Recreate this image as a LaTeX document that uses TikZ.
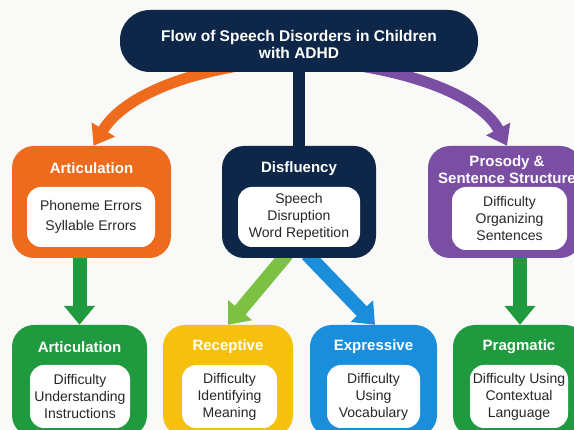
\documentclass[tikz,border=0pt]{standalone}
\usepackage{fontspec}
\setmainfont{Liberation Sans}
\usetikzlibrary{arrows.meta}
\definecolor{navy}{HTML}{0E2748}
\definecolor{orng}{HTML}{EE6B1E}
\definecolor{purp}{HTML}{7A4EA3}
\definecolor{grn}{HTML}{1F9A3F}
\definecolor{yel}{HTML}{F6C10E}
\definecolor{blu}{HTML}{1B8EDB}
\definecolor{lime}{HTML}{7CC142}
\definecolor{bg}{HTML}{F9F9F8}

\tikzset{
  outerbox/.style={rounded corners=22pt, inner sep=0pt, draw=none},
  innerbox/.style={fill=white, rounded corners=14pt, inner sep=0pt, align=center,
    font=\fontsize{14}{17}\selectfont, text=black!85},
  headtext/.style={text=white, inner sep=0pt, align=center,
    font=\fontsize{15}{17}\selectfont\bfseries},
  flow/.style={line width=14pt, -{Triangle[width=30pt,length=19pt]}},
  curveflow/.style={line width=11pt, -{Triangle[width=26pt,length=19pt]}},
}

\begin{document}
\begin{tikzpicture}[x=1pt,y=-1pt]
\clip (0,0) rectangle (574,430);
\fill[bg] (0,0) rectangle (574,430);

% placement of the main boxes (drawn later, on top of the connectors)
\path
  (299,41)   coordinate (titleC)
  (91.5,202) coordinate (artC)
  (299,202)  coordinate (disC)
  (505,202)  coordinate (proC)
  (79.5,381) coordinate (artgC)
  (228,381)  coordinate (recC)
  (373.5,381) coordinate (expC)
  (520,381)  coordinate (praC);

% invisible frames so that connectors can refer to the boxes
\node[outerbox, minimum width=358pt, minimum height=62pt] (title) at (titleC) {};
\node[outerbox, minimum width=159pt, minimum height=112pt] (art) at (artC) {};
\node[outerbox, minimum width=154pt, minimum height=112pt] (dis) at (disC) {};
\node[outerbox, minimum width=154pt, minimum height=112pt] (pro) at (proC) {};
\node[outerbox, minimum width=135pt, minimum height=112pt] (artg) at (artgC) {};
\node[outerbox, minimum width=130pt, minimum height=112pt] (rec) at (recC) {};
\node[outerbox, minimum width=127pt, minimum height=112pt] (exp) at (expC) {};
\node[outerbox, minimum width=134pt, minimum height=112pt] (pra) at (praC) {};

% connectors
\draw[navy, line width=12pt] (title.south) -- (dis.north);
\draw[orng, curveflow] ([xshift=-50pt,yshift=8pt]title.south)
  .. controls (170,76) and (120,102) .. ([xshift=2pt]art.north);
\draw[purp, curveflow] ([xshift=50pt,yshift=8pt]title.south)
  .. controls (430,76) and (484,102) .. ([xshift=2pt]pro.north);
\draw[grn, flow] (art.south -| artg.north) -- (artg.north);
\draw[grn, flow] (pro.south -| pra.north) -- (pra.north);
\draw[lime, flow] ([xshift=-12pt,yshift=4pt]dis.south) -- ([xshift=0pt]rec.north);
\draw[blu, flow] ([xshift=8pt,yshift=4pt]dis.south) -- ([xshift=1.5pt]exp.north);

% coloured boxes
\node[outerbox, rounded corners=30pt, fill=navy, minimum width=358pt, minimum height=62pt] at (titleC) {};
\node[outerbox, fill=orng, minimum width=159pt, minimum height=112pt] at (artC) {};
\node[outerbox, fill=navy, minimum width=154pt, minimum height=112pt] at (disC) {};
\node[outerbox, fill=purp, minimum width=154pt, minimum height=112pt] at (proC) {};
\node[outerbox, fill=grn, minimum width=135pt, minimum height=112pt] at (artgC) {};
\node[outerbox, fill=yel, minimum width=130pt, minimum height=112pt] at (recC) {};
\node[outerbox, fill=blu, minimum width=127pt, minimum height=112pt] at (expC) {};
\node[outerbox, fill=grn, minimum width=134pt, minimum height=112pt] at (praC) {};

% title text
\node[text=white, align=center, font=\fontsize{15.5}{17.5}\selectfont\bfseries] (titleT) at (299,44.5)
  {Flow of Speech Disorders in Children\\with ADHD};

% headings
\node[headtext] (artT) at (91.5,168.5) {Articulation};
\node[headtext] (disT) at (299,168.5) {Disfluency};
\node[headtext] (proT) at (507,170) {Prosody \&\\Sentence Structure};
\node[headtext] (artgT) at (79.5,347) {Articulation};
\node[headtext] (recT) at (228,347) {Receptive};
\node[headtext] (expT) at (373.5,347) {Expressive};
\node[headtext] (praT) at (519,347) {Pragmatic};

% white detail boxes
\node[innerbox, minimum width=128pt, minimum height=60pt] (artI) at (91,217)
  {Phoneme Errors\\[3pt]Syllable Errors};
\node[innerbox, minimum width=122pt, minimum height=60pt] (disI) at (299,217)
  {Speech\\Disruption\\Word Repetition};
\node[innerbox, minimum width=115pt, minimum height=63pt] (proI) at (509.5,218.5)
  {Difficulty\\Organizing\\Sentences};
\node[innerbox, minimum width=100pt, minimum height=63pt] (artgI) at (80,396.5)
  {Difficulty\\Understanding\\Instructions};
\node[innerbox, minimum width=95pt, minimum height=63pt] (recI) at (229.5,396.5)
  {Difficulty\\Identifying\\Meaning};
\node[innerbox, minimum width=93pt, minimum height=63pt] (expI) at (373.5,396.5)
  {Difficulty\\Using\\Vocabulary};
\node[innerbox, minimum width=98pt, minimum height=63pt] (praI) at (519,396.5)
  {Difficulty Using\\Contextual\\Language};
\end{tikzpicture}
\end{document}
